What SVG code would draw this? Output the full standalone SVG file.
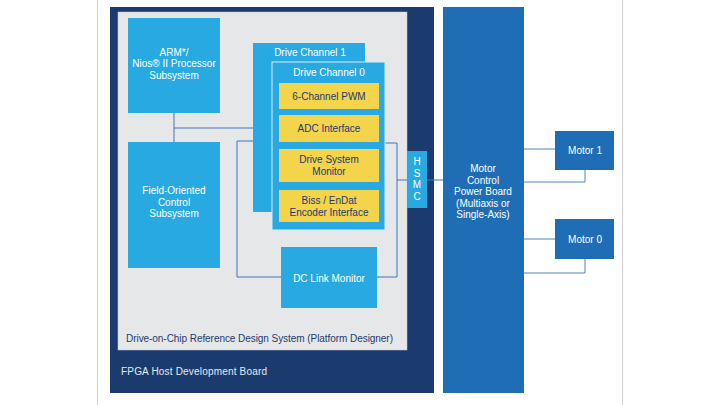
<svg xmlns="http://www.w3.org/2000/svg" width="720" height="405" viewBox="0 0 720 405">
<style>
.t{font-family:"Liberation Sans","Open Sans",Arial,sans-serif;font-size:10px;text-anchor:middle}
.w{fill:#ffffff}
.n{fill:#1b3b6f}
.cb{fill:#29a9e1}
.yb{fill:#f3d44b}
.c{fill:none;stroke:#3c77b8;stroke-width:1}
.m{fill:#1f6eb5}
</style>
<rect width="720" height="405" fill="#ffffff"/>
<line x1="97.5" y1="0" x2="97.5" y2="405" stroke="#d0d0d0"/>
<line x1="622.5" y1="0" x2="622.5" y2="405" stroke="#d0d0d0"/>
<g id="fpga">
<rect x="110" y="7" width="324" height="386" fill="#1b3b6f"/>
<text x="121" y="375" class="t" textLength="146" style="text-anchor:start;fill:#e4eaf2">FPGA Host Development Board</text>
</g>
<g id="platform">
<rect x="118" y="12" width="289" height="338" fill="#e6e7e8" stroke="#c9ccd2" stroke-width="0.5"/>
<text x="126" y="342" class="t n" textLength="267" style="text-anchor:start">Drive-on-Chip Reference Design System (Platform Designer)</text>
</g>
<g id="connectors">
<polyline class="c" points="174,113 174,142"/>
<polyline class="c" points="174,128 253,128"/>
<polyline class="c" points="253,141 237,141 237,277 281,277"/>
<polyline class="c" points="385,143 397,143 397,277 377,277"/>
<polyline class="c" points="397,180 407,180"/>
<polyline class="c" points="427,180 443,180"/>
<polyline class="c" style="stroke:#4a86c5" points="524,149 555,149"/>
<polyline class="c" style="stroke:#4a86c5" points="524,182 585,182 585,170"/>
<polyline class="c" style="stroke:#4a86c5" points="524,239 555,239"/>
<polyline class="c" style="stroke:#4a86c5" points="524,273 585,273 585,259"/>
</g>
<g id="processor">
<rect x="128" y="18" width="92" height="95" class="cb"/>
<text class="t w" x="174" y="55.5">ARM*/</text>
<text class="t w" x="174" y="67">Nios® II Processor</text>
<text class="t w" x="174" y="78.5">Subsystem</text>
</g>
<g id="foc">
<rect x="128" y="142" width="92" height="126" class="cb"/>
<text class="t w" x="174" y="194">Field-Oriented</text>
<text class="t w" x="174" y="205.5">Control</text>
<text class="t w" x="174" y="217">Subsystem</text>
</g>
<g id="dc1">
<rect x="253" y="43" width="112" height="169" class="cb"/>
<text class="t w" x="310" y="56">Drive Channel 1</text>
</g>
<g id="dc0">
<rect x="272" y="62" width="113" height="168" class="cb" stroke="#d8ecf8" stroke-width="1"/>
<text class="t w" x="329" y="76">Drive Channel 0</text>
</g>
<g id="pwm">
<rect x="279" y="83" width="100" height="26" class="yb"/>
<text class="t n" x="329" y="100">6-Channel PWM</text>
</g>
<g id="adc">
<rect x="279" y="115" width="100" height="27" class="yb"/>
<text class="t n" x="329" y="132">ADC Interface</text>
</g>
<g id="dsm">
<rect x="279" y="149" width="100" height="33" class="yb"/>
<text class="t n" x="329" y="163">Drive System</text>
<text class="t n" x="329" y="174.5">Monitor</text>
</g>
<g id="biss">
<rect x="279" y="190" width="100" height="32" class="yb"/>
<text class="t n" x="329" y="204">Biss / EnDat</text>
<text class="t n" x="329" y="215.5">Encoder Interface</text>
</g>
<g id="dclink">
<rect x="281" y="247" width="96" height="61" class="cb"/>
<text class="t w" x="329" y="282">DC Link Monitor</text>
</g>
<g id="hsmc">
<rect x="407" y="151" width="20" height="57" class="cb"/>
<text class="t w" x="417" y="165">H</text>
<text class="t w" x="417" y="176.5">S</text>
<text class="t w" x="417" y="188">M</text>
<text class="t w" x="417" y="199.5">C</text>
</g>
<g id="powerboard">
<rect x="443" y="7" width="81" height="386" class="m"/>
<text class="t w" x="483" y="172">Motor</text>
<text class="t w" x="483" y="183.5">Control</text>
<text class="t w" x="483" y="195">Power Board</text>
<text class="t w" x="483" y="206.5">(Multiaxis or</text>
<text class="t w" x="483" y="218">Single-Axis)</text>
</g>
<g id="motor1">
<rect x="555" y="131" width="59" height="39" class="m"/>
<text class="t w" x="585" y="154">Motor 1</text>
</g>
<g id="motor0">
<rect x="555" y="219" width="59" height="40" class="m"/>
<text class="t w" x="585" y="243">Motor 0</text>
</g>
</svg>
